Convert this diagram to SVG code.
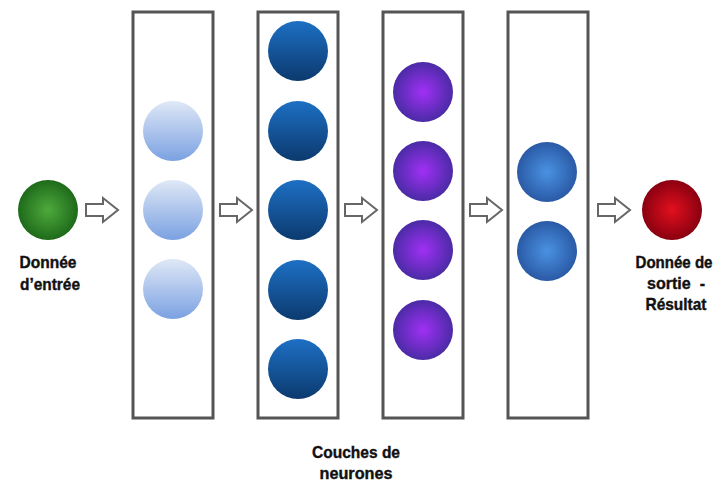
<svg xmlns="http://www.w3.org/2000/svg" width="719" height="488" viewBox="0 0 719 488">
<defs>
<linearGradient id="gLight" x1="0" y1="0" x2="0" y2="1"><stop offset="0" stop-color="#dfe8f6"/><stop offset="1" stop-color="#7ba1e2"/></linearGradient>
<linearGradient id="gDark" x1="0" y1="0" x2="0" y2="1"><stop offset="0" stop-color="#1d6fc4"/><stop offset="1" stop-color="#0c3a6e"/></linearGradient>
<radialGradient id="gPurple" cx="0.5" cy="0.5" r="0.5"><stop offset="0" stop-color="#a030f5"/><stop offset="1" stop-color="#4b2ba6"/></radialGradient>
<radialGradient id="gBlue" cx="0.5" cy="0.5" r="0.5"><stop offset="0" stop-color="#4a92e2"/><stop offset="1" stop-color="#2a5aa6"/></radialGradient>
<radialGradient id="gGreen" cx="0.5" cy="0.5" r="0.5"><stop offset="0" stop-color="#4eaa3c"/><stop offset="1" stop-color="#1e6a1a"/></radialGradient>
<radialGradient id="gRed" cx="0.5" cy="0.5" r="0.5"><stop offset="0" stop-color="#e2101e"/><stop offset="1" stop-color="#8a0010"/></radialGradient>
<polygon id="arr" points="0,-6 17,-6 17,-12 32,0 17,12 17,6 0,6"/>
</defs>
<style>
.box{fill:#fff;stroke:#555;stroke-width:3}
.arrow{fill:#fff;stroke:#666;stroke-width:2;stroke-linejoin:miter}
.lbl{font-family:"Liberation Sans","Arial",sans-serif;font-weight:bold;font-size:17px;fill:#111;stroke:#111;stroke-width:0.4;text-anchor:middle}
.sm{font-size:16px}
</style>
<rect width="719" height="488" fill="#fff"/>
<g id="input">
<circle cx="48" cy="210" r="30" fill="url(#gGreen)"/>
<text class="lbl" x="48" y="268" textLength="57" lengthAdjust="spacingAndGlyphs">Donnée</text>
<text class="lbl" x="50" y="290" textLength="60" lengthAdjust="spacingAndGlyphs">d’entrée</text>
</g>
<g id="layer1">
<rect class="box" x="133" y="12" width="80" height="406"/>
<circle cx="173" cy="131" r="30" fill="url(#gLight)"/>
<circle cx="173" cy="210" r="30" fill="url(#gLight)"/>
<circle cx="173" cy="289" r="30" fill="url(#gLight)"/>
</g>
<g id="layer2">
<rect class="box" x="258" y="12" width="80" height="406"/>
<circle cx="298" cy="51" r="30" fill="url(#gDark)"/>
<circle cx="298" cy="131" r="30" fill="url(#gDark)"/>
<circle cx="298" cy="210" r="30" fill="url(#gDark)"/>
<circle cx="298" cy="290" r="30" fill="url(#gDark)"/>
<circle cx="298" cy="369" r="30" fill="url(#gDark)"/>
</g>
<g id="layer3">
<rect class="box" x="383" y="12" width="80" height="406"/>
<circle cx="423" cy="92" r="30" fill="url(#gPurple)"/>
<circle cx="423" cy="171" r="30" fill="url(#gPurple)"/>
<circle cx="423" cy="250" r="30" fill="url(#gPurple)"/>
<circle cx="423" cy="330" r="30" fill="url(#gPurple)"/>
</g>
<g id="layer4">
<rect class="box" x="508" y="12" width="80" height="406"/>
<circle cx="547" cy="172" r="30" fill="url(#gBlue)"/>
<circle cx="547" cy="251" r="30" fill="url(#gBlue)"/>
</g>
<g id="output">
<circle cx="672" cy="210" r="30" fill="url(#gRed)"/>
<text class="lbl sm" x="674" y="268" textLength="77" lengthAdjust="spacingAndGlyphs">Donnée de</text>
<text class="lbl" x="676" y="289" textLength="58" lengthAdjust="spacingAndGlyphs" xml:space="preserve">sortie  -</text>
<text class="lbl" x="676" y="310" textLength="61" lengthAdjust="spacingAndGlyphs">Résultat</text>
</g>
<g id="caption">
<text class="lbl" x="356" y="458" textLength="88" lengthAdjust="spacingAndGlyphs">Couches de</text>
<text class="lbl" x="356" y="479" textLength="73" lengthAdjust="spacingAndGlyphs">neurones</text>
</g>
<g id="connectors">
<use href="#arr" class="arrow" x="86" y="210"/>
<use href="#arr" class="arrow" x="220" y="210"/>
<use href="#arr" class="arrow" x="345" y="210"/>
<use href="#arr" class="arrow" x="470" y="210"/>
<use href="#arr" class="arrow" x="598" y="210"/>
</g>
</svg>
